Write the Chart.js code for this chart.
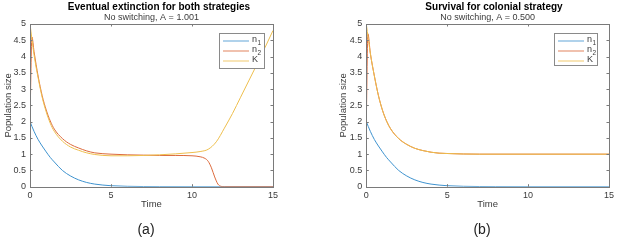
<!DOCTYPE html>
<html>
<head>
<meta charset="utf-8">
<script src="https://cdn.jsdelivr.net/npm/chart.js@4.4.1/dist/chart.umd.min.js"></script>
<style>
  html, body { margin: 0; padding: 0; background: #fff; }
  .panel { position: absolute; top: 0; }
</style>
</head>
<body>
<canvas id="chartA" class="panel" width="308" height="240" style="left:0px"></canvas>
<canvas id="chartB" class="panel" width="309" height="240" style="left:308px"></canvas>
<script>
// ---- data ----
const seriesNames = ['n1', 'n2', 'K'];
const xTicks = [0, 5, 10, 15];
const yTicks = [0, 0.5, 1, 1.5, 2, 2.5, 3, 3.5, 4, 4.5, 5];

// n1 is the same in both panels
const n1Time = [0, 0.25, 0.5, 0.75, 1, 1.25, 1.5, 2, 2.5, 3, 3.5, 4, 4.5, 5, 6, 7, 8, 10, 15];
const n1Vals = [2, 1.7, 1.45, 1.25, 1.07, 0.9, 0.76, 0.5, 0.33, 0.21, 0.13, 0.08, 0.05, 0.03, 0.012, 0.005, 0.002, 0, 0];

// panel (a), A = 1.001
const n2TimeA = [0, 0.12, 0.25, 0.5, 0.75, 1, 1.25, 1.5, 2, 2.5, 3, 3.5, 4, 5, 6, 7, 8, 9, 10, 10.5, 10.8, 11, 11.2, 11.4, 11.6, 11.8, 12, 15];
const n2ValsA = [2, 4.6, 4.15, 3.4, 2.8, 2.36, 2.02, 1.77, 1.48, 1.3, 1.19, 1.1, 1.04, 1.0, 0.98, 0.97, 0.96, 0.96, 0.95, 0.92, 0.87, 0.78, 0.58, 0.3, 0.08, 0.01, 0, 0];
const kTimeA = [0, 0.25, 0.5, 0.75, 1, 1.25, 1.5, 2, 2.5, 3, 3.5, 4, 5, 6, 7, 8, 9, 10, 10.5, 11, 11.5, 12, 12.5, 13, 13.5, 14, 14.5, 15];
const kValsA = [5, 4.05, 3.35, 2.75, 2.3, 1.95, 1.7, 1.4, 1.22, 1.12, 1.04, 0.99, 0.95, 0.95, 0.96, 0.98, 1.01, 1.05, 1.08, 1.15, 1.38, 1.8, 2.25, 2.75, 3.25, 3.75, 4.27, 4.8];

// panel (b), A = 0.500
const n2TimeB = [0, 0.1, 0.25, 0.5, 0.75, 1, 1.25, 1.5, 2, 2.5, 3, 3.5, 4, 4.5, 5, 6, 7, 15];
const n2ValsB = [2, 4.7, 4.1, 3.4, 2.8, 2.35, 2.02, 1.78, 1.48, 1.3, 1.18, 1.11, 1.06, 1.03, 1.02, 1.005, 1.0, 1.0];
const kTimeB = [0, 0.25, 0.5, 0.75, 1, 1.25, 1.5, 2, 2.5, 3, 3.5, 4, 4.5, 5, 6, 7, 15];
const kValsB = [5, 4.1, 3.4, 2.8, 2.35, 2.02, 1.78, 1.48, 1.3, 1.18, 1.11, 1.06, 1.03, 1.02, 1.005, 1.0, 1.0];

// ---- styling ----
const colors = ['#3f93cf', '#dc6a3c', '#eebf4e'];
const FONT = "'Liberation Sans', Arial, sans-serif";
const AXIS_COLOR = '#7a7a7a';
const TEXT_COLOR = '#3a3a3a';

const toPoints = (xs, ys) => xs.map((x, i) => ({ x: x, y: ys[i] }));

// draws titles, box, inward ticks, axis labels and the legend
const decorPlugin = {
    id: 'decor',
    afterDraw(chart, args, opts) {
        const ctx = chart.ctx;
        const area = chart.chartArea;
        const xs = chart.scales.x;
        const ys = chart.scales.y;
        ctx.save();

        // box
        ctx.strokeStyle = AXIS_COLOR;
        ctx.lineWidth = 1;
        ctx.strokeRect(Math.round(area.left) + 0.5, Math.round(area.top) + 0.5,
            Math.round(area.right - area.left), Math.round(area.bottom - area.top));

        // inward ticks
        const tl = 2.5;
        ctx.beginPath();
        xTicks.forEach(v => {
            const px = Math.round(xs.getPixelForValue(v)) + 0.5;
            ctx.moveTo(px, area.bottom); ctx.lineTo(px, area.bottom - tl);
            ctx.moveTo(px, area.top); ctx.lineTo(px, area.top + tl);
        });
        yTicks.forEach(v => {
            const py = Math.round(ys.getPixelForValue(v)) + 0.5;
            ctx.moveTo(area.left, py); ctx.lineTo(area.left + tl, py);
            ctx.moveTo(area.right, py); ctx.lineTo(area.right - tl, py);
        });
        ctx.stroke();

        // titles
        ctx.fillStyle = '#000';
        ctx.textAlign = 'center';
        ctx.textBaseline = 'middle';
        ctx.font = 'bold 10px ' + FONT;
        ctx.fillText(opts.title, opts.titleX, 7);
        ctx.font = '9px ' + FONT;
        ctx.fillStyle = TEXT_COLOR;
        ctx.fillText(opts.subtitle, (area.left + area.right) / 2, 17.5);

        // axis labels
        ctx.font = '9.5px ' + FONT;
        ctx.fillText('Time', (area.left + area.right) / 2, 204);
        ctx.save();
        ctx.translate(opts.yLabelX, (area.top + area.bottom) / 2);
        ctx.rotate(-Math.PI / 2);
        ctx.fillText('Population size', 0, 0);
        ctx.restore();

        // panel letter
        ctx.fillStyle = '#222';
        ctx.font = '14px ' + FONT;
        ctx.fillText(opts.letter, opts.letterX, 230);

        // legend
        const lg = opts.legend;
        ctx.fillStyle = '#fff';
        ctx.fillRect(lg.left, lg.top, lg.width, lg.height);
        ctx.strokeStyle = '#8a8a8a';
        ctx.lineWidth = 1;
        ctx.strokeRect(lg.left + 0.5, lg.top + 0.5, lg.width, lg.height);
        ctx.lineWidth = 1.5;
        ctx.textAlign = 'left';
        seriesNames.forEach((name, i) => {
            const y = lg.top + 8 + i * 10;
            ctx.strokeStyle = colors[i];
            ctx.globalAlpha = 0.55;
            ctx.beginPath();
            ctx.moveTo(lg.left + 4, y); ctx.lineTo(lg.left + 30, y);
            ctx.stroke();
            ctx.globalAlpha = 1;
            ctx.fillStyle = TEXT_COLOR;
            ctx.font = '9px ' + FONT;
            const tx = lg.left + 33;
            ctx.fillText(name.charAt(0), tx, y - 1);
            if (name.length > 1) {
                ctx.font = '6.5px ' + FONT;
                ctx.fillText(name.slice(1), tx + 5.5, y + 2.5);
            }
        });
        ctx.restore();
    }
};

const makeChart = (canvasId, data, cfg) => {
    const canvas = document.getElementById(canvasId);
    return new Chart(canvas.getContext('2d'), {
        type: 'line',
        data: {
            datasets: data.map((pts, i) => ({
                label: seriesNames[i],
                data: pts,
                borderColor: colors[i],
                borderWidth: 1,
                pointRadius: 0,
                cubicInterpolationMode: 'monotone',
                fill: false,
                order: data.length - 1 - i   // later series drawn on top, like MATLAB
            }))
        },
        options: {
            responsive: false,
            animation: false,
            devicePixelRatio: 1,
            layout: { padding: { left: 0, right: cfg.padRight, top: 24, bottom: 33.3 } },
            plugins: {
                legend: { display: false },
                tooltip: { enabled: false },
                decor: cfg
            },
            scales: {
                x: {
                    type: 'linear',
                    min: 0, max: 15,
                    grid: { display: false, drawTicks: false },
                    border: { display: false },
                    afterBuildTicks: (axis) => { axis.ticks = xTicks.map(v => ({ value: v })); },
                    afterFit: (axis) => { axis.height = 20; },
                    ticks: {
                        color: TEXT_COLOR, padding: 3, maxRotation: 0,
                        font: { family: FONT, size: 9 },
                        callback: (v) => String(v)
                    }
                },
                y: {
                    min: 0, max: 5,
                    grid: { display: false, drawTicks: false },
                    border: { display: false },
                    afterBuildTicks: (axis) => { axis.ticks = yTicks.map(v => ({ value: v })); },
                    afterFit: (axis) => { axis.width = cfg.yAxisWidth; },
                    ticks: {
                        color: TEXT_COLOR, padding: 4,
                        font: { family: FONT, size: 9 },
                        callback: (v) => String(v)
                    }
                }
            }
        },
        plugins: [decorPlugin]
    });
};

makeChart('chartA', [
    toPoints(n1Time, n1Vals),
    toPoints(n2TimeA, n2ValsA),
    toPoints(kTimeA, kValsA)
], {
    title: 'Eventual extinction for both strategies',
    subtitle: 'No switching, A = 1.001',
    titleX: 159,
    yLabelX: 8,
    letter: '(a)',
    letterX: 146,
    yAxisWidth: 30,
    padRight: 35,
    legend: { left: 219, top: 33, width: 45, height: 35 }
});

makeChart('chartB', [
    toPoints(n1Time, n1Vals),
    toPoints(n2TimeB, n2ValsB),
    toPoints(kTimeB, kValsB)
], {
    title: 'Survival for colonial strategy',
    subtitle: 'No switching, A = 0.500',
    titleX: 186,
    yLabelX: 35,
    letter: '(b)',
    letterX: 174,
    yAxisWidth: 58.3,
    padRight: 7.3,
    legend: { left: 246, top: 33, width: 43, height: 32 }
});
</script>
</body>
</html>
